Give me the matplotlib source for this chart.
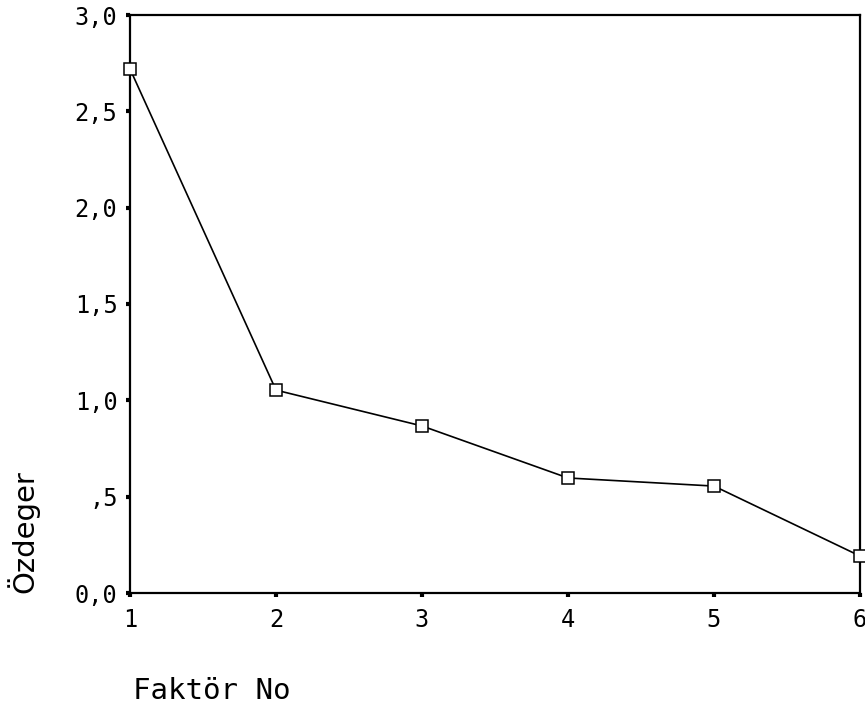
import matplotlib.pyplot as plt

# Scree plot values
factors = [1, 2, 3, 4, 5, 6]
eigenvalues = [2.72, 1.053, 0.867, 0.597, 0.555, 0.192]
ytick_vals = [0.0, 0.5, 1.0, 1.5, 2.0, 2.5, 3.0]
ytick_labels = ["0,0", ",5", "1,0", "1,5", "2,0", "2,5", "3,0"]

plt.rcParams['font.family'] = ['DejaVu Sans Mono']

fig = plt.figure(figsize=(8.65, 7.13), dpi=100)
ax = fig.add_axes([130 / 865, 1 - 593 / 713, 730 / 865, 578 / 713])

ax.plot(factors, eigenvalues, color="black", linewidth=1.2,
        marker="s", markersize=9, markerfacecolor="white",
        markeredgecolor="black", markeredgewidth=1.1, clip_on=False, zorder=3)

ax.set_xlim(1, 6)
ax.set_ylim(0, 3.0)
ax.set_xticks(factors)
ax.set_xticklabels([str(f) for f in factors])
ax.set_yticks(ytick_vals)
ax.set_yticklabels(ytick_labels)
ax.tick_params(direction="out", length=3, width=3, labelsize=17)
ax.tick_params(axis="y", pad=6)
ax.tick_params(axis="x", pad=8)

for s in ax.spines.values():
    s.set_linewidth(1.6)

ax.set_ylabel("Özdeger", fontsize=21, loc="bottom", family="DejaVu Sans")
ax.yaxis.set_label_coords(-91 / 730, 0)
ax.set_xlabel("Faktör No", fontsize=21, loc="left")
ax.xaxis.set_label_coords(3 / 730, -84 / 578)

fig.savefig("out.png", dpi=100)
